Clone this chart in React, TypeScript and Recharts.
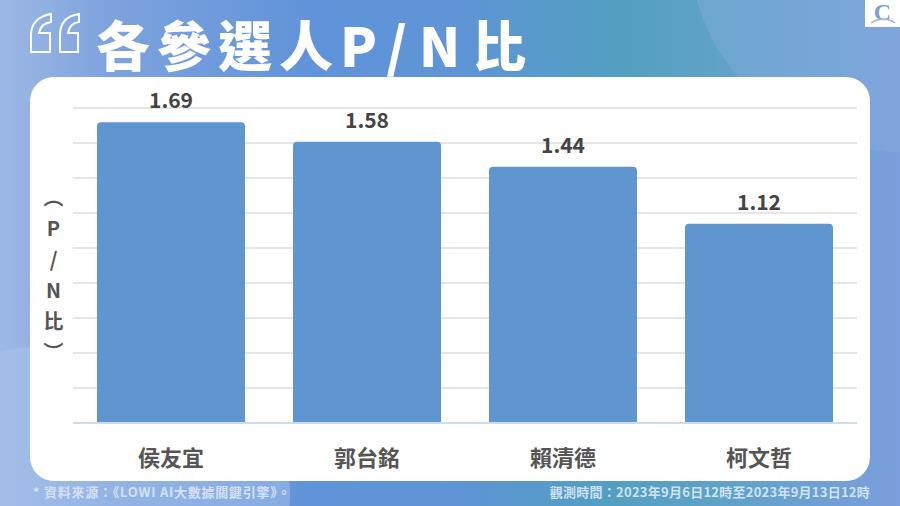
import React from 'react';
import { BarChart, Bar, XAxis, YAxis, CartesianGrid, LabelList } from "recharts";

const candidates = ["侯友宜", "郭台銘", "賴清德", "柯文哲"];
const pnRatio = [1.69, 1.58, 1.44, 1.12];
const gridTicks = [0, 0.197, 0.393, 0.59, 0.787, 0.983, 1.18, 1.377, 1.573, 1.77];

const chartData = candidates.map((name, i) => ({ name, value: pnRatio[i] }));

const FONT = '"Noto Sans CJK TC", "Noto Sans", sans-serif';

export default function App() {
  return (
    <div style={{
      position: 'fixed', left: 0, top: 0, width: 900, height: 506, overflow: 'hidden', fontFamily: FONT,
      background: 'linear-gradient(90deg, #9db8e4 0%, #7ea3de 12%, #6093d9 35%, #5f94d6 50%, #529fc2 68%, #5da2c6 78%, #7a9fdc 100%)',
    }}>
      {/* background shapes */}
      <div style={{ position: 'absolute', left: 688, top: -272, width: 424, height: 424, borderRadius: '50%', background: 'rgba(135,175,222,0.4)' }} />
      <div style={{ position: 'absolute', left: -160, top: 345, width: 450, height: 300, borderRadius: '50%', background: 'rgba(170,195,235,0.5)' }} />

      {/* title */}
      <svg style={{ position: 'absolute', left: 0, top: 0 }} width={90} height={60}>
        <path d="M51 14 C38 16 31 24 31 35 L31 52 L50 52 L50 33 L39 33 C40 27 44 23 51 22 Z" fill="none" stroke="#fff" strokeWidth={2} />
        <path d="M79 14 C66 16 60 24 60 35 L60 52 L78 52 L78 33 L68 33 C69 27 72 23 79 22 Z" fill="none" stroke="#fff" strokeWidth={2} />
      </svg>
      <div style={{ position: 'absolute', left: 96, top: 5, fontSize: 54, lineHeight: '78px', fontWeight: 900, color: '#fff', letterSpacing: 7, whiteSpace: 'nowrap' }}>
        各參選人<span style={{ letterSpacing: 12 }}>P/N</span>比
      </div>

      {/* logo */}
      <div style={{ position: 'absolute', left: 865, top: 0, width: 35, height: 27, background: '#fff' }}>
        <div style={{ fontFamily: '"Liberation Serif", serif', color: '#7f9fd0', fontSize: 24, lineHeight: '22px', marginTop: 1, fontWeight: 700, textAlign: 'center' }}>C</div>
      </div>
      <svg style={{ position: 'absolute', left: 865, top: 0 }} width={35} height={27}>
        <path d="M6 23 C12 18 24 18 30 23" fill="none" stroke="#9fb6dc" strokeWidth={1.5} />
      </svg>

      {/* card */}
      <div style={{ position: 'absolute', left: 30, top: 77, width: 840, height: 404, borderRadius: 24, background: '#fff' }} />

      <div style={{ position: 'absolute', left: 0, top: 0 }}>
        <BarChart width={900} height={506} data={chartData} margin={{ top: 108, right: 43, bottom: 0, left: 73 }}>
          <CartesianGrid vertical={false} stroke="#dcdcdc" strokeWidth={1.5} />
          <XAxis
            dataKey="name"
            height={83}
            axisLine={{ stroke: '#cfdbe8', strokeWidth: 2 }}
            tickLine={false}
            tickMargin={21}
            tick={{ fontSize: 22, fontWeight: 700, fill: '#555555', fontFamily: FONT }}
          />
          <YAxis hide domain={[0, 1.77]} ticks={gridTicks} />
          <Bar dataKey="value" fill="#6096d0" barSize={148} radius={[4, 4, 0, 0]} isAnimationActive={false}>
            <LabelList
              dataKey="value"
              position="top"
              offset={14}
              formatter={(v: number) => v.toFixed(2)}
              style={{ fontSize: 21, fontWeight: 700, fill: '#444444', fontFamily: FONT }}
            />
          </Bar>
        </BarChart>
      </div>

      {/* y axis title */}
      <div style={{ position: 'absolute', left: 40, top: 187, width: 26, writingMode: 'vertical-rl', textOrientation: 'upright', fontSize: 20, lineHeight: '26px', fontWeight: 700, color: '#555555', letterSpacing: 11, whiteSpace: 'nowrap' }}>（P/N比）</div>

      {/* footer */}
      <div style={{ position: 'absolute', left: 33, top: 483, fontSize: 13, lineHeight: '18px', fontWeight: 700, color: '#d4e0f3', letterSpacing: 0.75, whiteSpace: 'nowrap' }}>* 資料來源：《LOWI AI大數據關鍵引擎》。</div>
      <div style={{ position: 'absolute', right: 30, top: 483, fontSize: 13, lineHeight: '18px', fontWeight: 700, color: '#cfe2f0', letterSpacing: 0.25, whiteSpace: 'nowrap' }}>觀測時間：2023年9月6日12時至2023年9月13日12時</div>
    </div>
  );
}
